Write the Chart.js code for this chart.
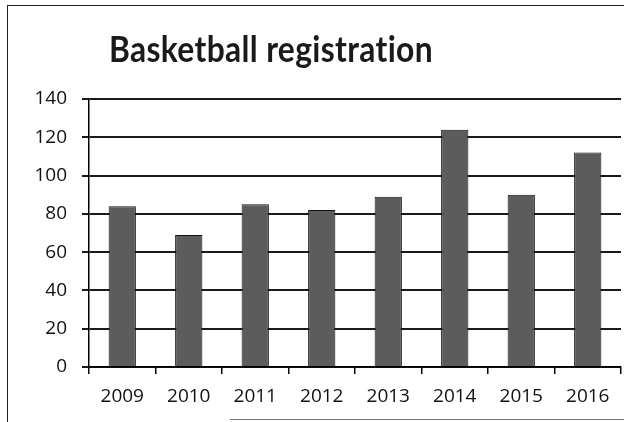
<!DOCTYPE html>
<html>
<head>
<meta charset="utf-8">
<script src="https://cdn.jsdelivr.net/npm/chart.js@4/dist/chart.umd.min.js"></script>
<style>
    html, body { margin: 0; padding: 0; background: #fff; }
    #wrap { position: relative; width: 624px; height: 422px; overflow: hidden; }
    #wrap canvas { position: absolute; left: 0; top: 0; }
    .edge { position: absolute; background: #222; }
</style>
</head>
<body>
<div id="wrap">
    <canvas id="chartRegistrasi" width="624" height="422"></canvas>
    <div class="edge" style="left:7px; top:5px; width:617px; height:1px;"></div>
    <div class="edge" style="left:7px; top:5px; width:1px; height:417px;"></div>
    <div class="edge" style="left:230px; top:419px; width:394px; height:1px; background:#777;"></div>
</div>
<script>
// Data registrasi per tahun
const tahun = ['2009', '2010', '2011', '2012', '2013', '2014', '2015', '2016'];
const jumlahPendaftar = [84, 69, 85, 82, 89, 124, 90, 112];
const judul = 'Basketball registration';

document.addEventListener('DOMContentLoaded', function () {
    const fontTick = { family: '"Open Sans", sans-serif', size: 19 };

    // Judul digambar sendiri supaya posisinya bisa diatur
    const judulPlugin = {
        id: 'judulPlugin',
        afterDraw(chart) {
            const ctx = chart.ctx;
            ctx.save();
            ctx.font = 'bold 37px Lato, "Open Sans", sans-serif';
            ctx.letterSpacing = '0.4px'; // tanpa ligatur "ti"
            ctx.fillStyle = '#1a1a1a';
            ctx.textAlign = 'center';
            ctx.textBaseline = 'alphabetic';
            ctx.fillText(judul, 271, 62, 324);
            ctx.restore();
        }
    };

    const ctx = document.getElementById('chartRegistrasi').getContext('2d');
    let chartRegistrasi = new Chart(ctx, {
        type: 'bar',
        data: {
            labels: tahun,
            datasets: [{
                label: 'Registration',
                data: jumlahPendaftar,
                backgroundColor: '#5c5c5c',
                borderColor: '#111',
                borderWidth: 1,
                barPercentage: 0.41,
                categoryPercentage: 1
            }]
        },
        options: {
            responsive: false,
            animation: false,
            layout: { padding: { top: 99, right: 3, bottom: 0, left: 0 } },
            plugins: {
                legend: { display: false },
                title: { display: false },
                tooltip: { enabled: false }
            },
            scales: {
                x: {
                    afterFit: function (scale) { scale.height = 55; },
                    grid: { drawOnChartArea: false, drawTicks: true, tickLength: 7, color: '#000', lineWidth: 1.5 },
                    border: { color: '#000', width: 1.5 },
                    ticks: { color: '#111', font: fontTick, padding: 11, maxRotation: 0 }
                },
                y: {
                    min: 0,
                    max: 140,
                    afterFit: function (scale) { scale.width = 89; },
                    grid: { color: '#1a1a1a', lineWidth: 2, tickLength: 7 },
                    border: { color: '#000', width: 1.5 },
                    ticks: { stepSize: 20, color: '#111', font: fontTick, padding: 15 }
                }
            }
        },
        plugins: [judulPlugin]
    });
});
</script>
</body>
</html>
